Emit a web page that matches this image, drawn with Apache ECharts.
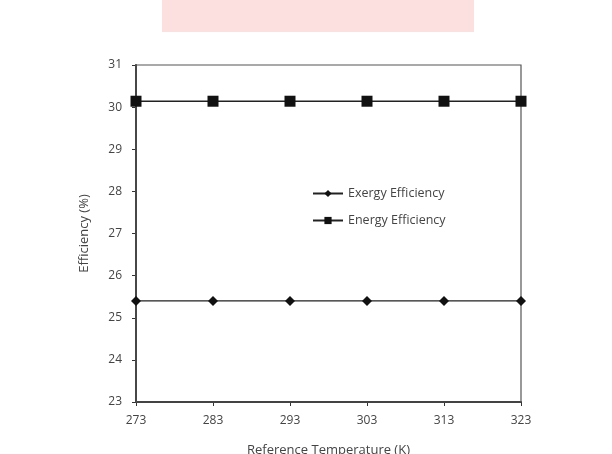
<!DOCTYPE html>
<html><head><meta charset="utf-8">
<script src="https://cdn.jsdelivr.net/npm/echarts@6/dist/echarts.min.js"></script>
<style>html,body{margin:0;padding:0;background:#fff}#c{width:612px;height:454px}</style>
</head><body><div id="c"></div>
<script>
const temperatures = ['273','283','293','303','313','323'];
const exergyEfficiency = [25.4, 25.4, 25.4, 25.4, 25.4, 25.4];
const energyEfficiency = [30.14, 30.14, 30.14, 30.14, 30.14, 30.14];
const yTicks = {min: 23, max: 31, interval: 1};

const chart = echarts.init(document.getElementById('c'));
const font = '"Open Sans", sans-serif';
chart.setOption({
  backgroundColor: '#fff',
  animation: false,
  graphic: [
    {type: 'rect', shape: {x: 162, y: 0, width: 312, height: 32}, style: {fill: '#fbd3d3', opacity: 0.7}, z: -10},
    {type: 'rect', shape: {x: 136, y: 65, width: 385, height: 337}, style: {fill: 'none', stroke: '#555', lineWidth: 1.2}, z: 1}
  ],
  grid: {left: 136, right: 91, top: 65, bottom: 52, containLabel: false, outerBoundsMode: 'none'},
  legend: {
    orient: 'vertical', left: 307, top: 182, itemGap: 14, itemWidth: 30, itemHeight: 9,
    textStyle: {fontFamily: font, fontSize: 12.5, color: '#444'},
    data: ['Exergy Efficiency', 'Energy Efficiency']
  },
  xAxis: {
    type: 'category', data: temperatures, boundaryGap: false,
    name: 'Reference Temperature (K)', nameLocation: 'middle', nameGap: 42,
    nameTextStyle: {fontFamily: font, fontSize: 13, color: '#444'},
    axisLine: {lineStyle: {color: '#333', width: 2}},
    axisTick: {show: true, length: 4, inside: false, alignWithLabel: true, lineStyle: {color: '#333'}},
    axisLabel: {fontFamily: font, fontSize: 12, color: '#444', margin: 13},
    splitLine: {show: false}
  },
  yAxis: {
    type: 'value', min: yTicks.min, max: yTicks.max, interval: yTicks.interval,
    name: 'Efficiency (%)', nameLocation: 'middle', nameGap: 45,
    nameTextStyle: {fontFamily: font, fontSize: 13, color: '#444'},
    axisLine: {show: true, lineStyle: {color: '#333', width: 2}},
    axisTick: {show: true, length: 4, lineStyle: {color: '#333'}},
    axisLabel: {fontFamily: font, fontSize: 12, color: '#444', margin: 14},
    splitLine: {show: false}
  },
  series: [
    {name: 'Exergy Efficiency', type: 'line', data: exergyEfficiency, symbol: 'diamond', symbolSize: 10,
     itemStyle: {color: '#111'}, lineStyle: {color: '#222', width: 1.3}, z: 3},
    {name: 'Energy Efficiency', type: 'line', data: energyEfficiency, symbol: 'rect', symbolSize: 11,
     itemStyle: {color: '#111'}, lineStyle: {color: '#222', width: 1.3}, z: 3}
  ]
});
</script></body></html>
